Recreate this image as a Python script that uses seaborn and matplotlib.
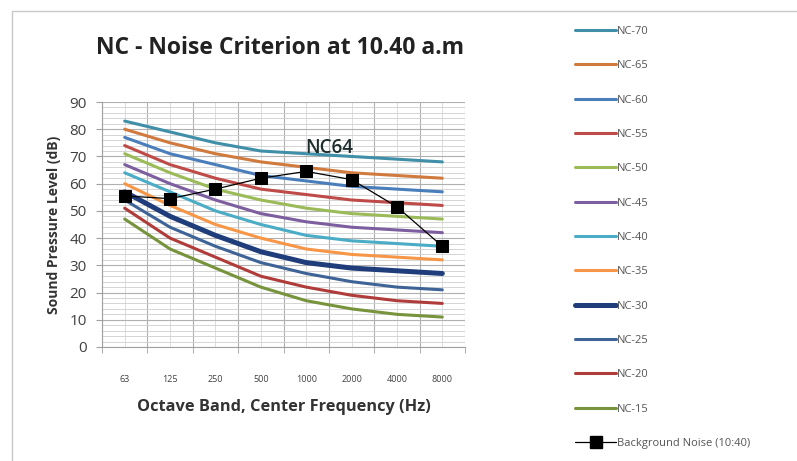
import numpy as np
import pandas as pd
import seaborn as sns
import matplotlib.pyplot as plt
from matplotlib.patches import Rectangle
from matplotlib.lines import Line2D
from matplotlib.ticker import MultipleLocator, FixedLocator

# octave bands and the standard NC curves
bands = ['63', '125', '250', '500', '1000', '2000', '4000', '8000']
nc_names = ['NC-70', 'NC-65', 'NC-60', 'NC-55', 'NC-50', 'NC-45',
            'NC-40', 'NC-35', 'NC-30', 'NC-25', 'NC-20', 'NC-15']
nc_70 = [83, 79, 75, 72, 71, 70, 69, 68]
nc_65 = [80, 75, 71, 68, 66, 64, 63, 62]
nc_60 = [77, 71, 67, 63, 61, 59, 58, 57]
nc_55 = [74, 67, 62, 58, 56, 54, 53, 52]
nc_50 = [71, 64, 58, 54, 51, 49, 48, 47]
nc_45 = [67, 60, 54, 49, 46, 44, 43, 42]
nc_40 = [64, 57, 50, 45, 41, 39, 38, 37]
nc_35 = [60, 52, 45, 40, 36, 34, 33, 32]
nc_30 = [57, 48, 41, 35, 31, 29, 28, 27]
nc_25 = [54, 44, 37, 31, 27, 24, 22, 21]
nc_20 = [51, 40, 33, 26, 22, 19, 17, 16]
nc_15 = [47, 36, 29, 22, 17, 14, 12, 11]
background = [55.5, 54.5, 58, 62, 64.5, 61.5, 51.5, 37]

curves = [nc_70, nc_65, nc_60, nc_55, nc_50, nc_45,
          nc_40, nc_35, nc_30, nc_25, nc_20, nc_15]
colors = ['#3f8fa8', '#d07a3e', '#4a7ebb', '#be4b48', '#9bbb59', '#7d5fa0',
          '#4bacc6', '#f79646', '#1f3d7a', '#3e6497', '#b03c3a', '#77933c']

sns.set_style('white')
plt.rcParams['font.family'] = ['Open Sans', 'DejaVu Sans']

fig = plt.figure(figsize=(7.97, 4.61), dpi=100)
ax = fig.add_axes([102 / 797, 1 - 347 / 461, 363 / 797, 245 / 461])

pos = np.arange(len(bands))
for name, vals, c in zip(nc_names, curves, colors):
    df = pd.DataFrame({'x': pos, 'y': vals})
    lw = 3.6 if name == 'NC-30' else 2.2
    sns.lineplot(data=df, x='x', y='y', ax=ax, color=c, linewidth=lw)

bg = pd.DataFrame({'x': pos, 'y': background})
sns.lineplot(data=bg, x='x', y='y', ax=ax, color='black', linewidth=0.9,
             marker='s', markersize=9, markeredgecolor='black')

ax.text(4.5, 73, 'NC64', fontsize=13.5, ha='center', va='center',
        color='#1d2b2b', fontweight='semibold')

ax.set_xlim(-0.5, 7.5)
ax.set_ylim(0, 90)
ax.yaxis.set_major_locator(MultipleLocator(10))
ax.yaxis.set_minor_locator(MultipleLocator(2))
ax.xaxis.set_major_locator(FixedLocator(pos))
ax.xaxis.set_minor_locator(FixedLocator(np.arange(-0.5, 8, 1)))
ax.set_xticklabels(bands)
ax.grid(which='major', axis='y', color='#b0b0b0', linewidth=0.8)
ax.grid(which='minor', axis='y', color='#cfcfcf', linewidth=0.6)
ax.grid(which='minor', axis='x', color='#b0b0b0', linewidth=0.8)
ax.grid(which='major', axis='x', color='#d8d8d8', linewidth=0.6)
ax.set_axisbelow(True)
for s in ax.spines.values():
    s.set_visible(False)
ax.spines['left'].set_visible(True)
ax.spines['left'].set_color('#a0a0a0')
ax.spines['bottom'].set_visible(True)
ax.spines['bottom'].set_color('#a0a0a0')
ax.tick_params(axis='y', which='major', labelsize=11, labelcolor='#404040',
               length=4, color='#a0a0a0', pad=7, left=True)
ax.tick_params(axis='x', which='major', labelsize=6.5, labelcolor='#404040',
               length=0, pad=20)
ax.tick_params(axis='x', which='minor', length=4, color='#a0a0a0', bottom=True)

ax.set_xlabel('Octave Band, Center Frequency (Hz)', fontsize=11.8,
              fontweight='bold', color='#333333', labelpad=11)
ax.set_ylabel('Sound Pressure Level (dB)', fontsize=10, fontweight='bold',
              color='#333333', labelpad=6)
fig.text(280 / 797, 1 - 48 / 461, 'NC - Noise Criterion at 10.40 a.m',
         fontsize=16.5, fontweight='bold', ha='center', va='center', color='#222222')

handles = [Line2D([], [], color=c, linewidth=(3.6 if n == 'NC-30' else 2.2))
           for n, c in zip(nc_names, colors)]
handles.append(Line2D([], [], color='black', linewidth=0.9, marker='s',
                      markersize=8))
labels = nc_names + ['Background Noise (10:40)']
fig.legend(handles, labels, loc='upper left',
           bbox_to_anchor=(575 / 797, 1 - 26 / 461), frameon=False,
           fontsize=8, handlelength=3.7, handletextpad=0.1,
           labelspacing=2.1, borderpad=0, borderaxespad=0,
           labelcolor='#555555')

fig.patches.append(Rectangle((12 / 797, -0.1), 1.2, 1 - 11 / 461 + 0.1,
                             transform=fig.transFigure, fill=False,
                             edgecolor='#c8c8c8', linewidth=1))

fig.savefig('out.png', dpi=100)
